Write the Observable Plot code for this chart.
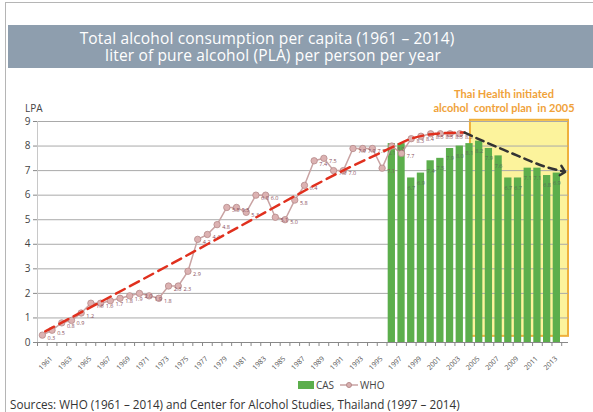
<!DOCTYPE html>
<html>
<head>
<meta charset="utf-8">
<script src="https://cdn.jsdelivr.net/npm/d3@7"></script>
<script src="https://cdn.jsdelivr.net/npm/@observablehq/plot@0.6"></script>
<style>
  html, body { margin: 0; padding: 0; background: #fff; }
  #page { position: relative; width: 593px; height: 412px; overflow: hidden; font-family: "Open Sans", sans-serif; }
  #frame { position: absolute; left: 5px; top: 2px; width: 620px; height: 430px; border: 1px solid #b5b5b5; }
  #banner { position: absolute; left: 8px; top: 25px; width: 600px; height: 43px; background: #8e9eae; }
  .title { position: absolute; color: #fff; font-size: 15.5px; line-height: 14px; letter-spacing: 0.15px; font-family: "Open Sans", sans-serif; font-weight: 400; white-space: nowrap; transform: translateX(-50%); }
  #chart { position: absolute; left: 0; top: 80px; }
  #lpa { position: absolute; left: 25px; top: 101px; font-size: 10px; color: #444; }
  .note { position: absolute; left: 418px; width: 172px; text-align: center; color: #f0a23a; font-weight: bold; font-size: 11px; line-height: 12px; font-family: Lato, sans-serif; white-space: pre; }
  #legend { position: absolute; top: 378px; left: 298px; font-size: 10px; color: #444; display: flex; align-items: center; font-family: "Open Sans", sans-serif; }
  #source { position: absolute; left: 10px; top: 396px; font-size: 11.7px; color: #333; font-family: "Open Sans", sans-serif; }
</style>
</head>
<body>
<div id="page">
  <div id="frame"></div>
  <div id="banner"></div>
  <div class="title" style="top:31px; left:267px">Total alcohol consumption per capita (1961 – 2014)</div>
  <div class="title" style="top:48px; left:273px">liter of pure alcohol (PLA) per person per year</div>
  <div id="chart"></div>
  <div id="lpa">LPA</div>
  <div class="note" style="top:88px">Thai Health initiated</div>
  <div class="note" style="top:102px">alcohol  control plan  in 2005</div>
  <div id="legend">
    <svg width="16" height="8"><rect x="0" y="0" width="16" height="8" fill="#5cae4c"></rect></svg>
    <span style="margin-left:2px">CAS</span>
    <svg width="18" height="8" style="margin-left:6px"><line x1="0" y1="4" x2="18" y2="4" stroke="#c9a3a3" stroke-width="1.5"></line><circle cx="9" cy="4" r="2.5" fill="#d8b0b0" stroke="#b58a8a"></circle></svg>
    <span style="margin-left:2px">WHO</span>
  </div>
  <div id="source">Sources: WHO (1961 – 2014) and Center for Alcohol Studies, Thailand (1997 – 2014)</div>
</div>
<script>
// WHO series (1961–2004)
const whoYears = [1961,1962,1963,1964,1965,1966,1967,1968,1969,1970,1971,1972,1973,1974,1975,1976,1977,1978,1979,1980,1981,1982,1983,1984,1985,1986,1987,1988,1989,1990,1991,1992,1993,1994,1995,1996,1997,1998,1999,2000,2001,2002,2003,2004];
const whoValues = [0.3,0.5,0.8,0.9,1.2,1.6,1.6,1.7,1.8,1.9,2.0,1.9,1.8,2.3,2.3,2.9,4.2,4.4,4.8,5.5,5.5,5.3,6.0,6.0,5.1,5.0,5.8,6.4,7.4,7.5,7.0,7.0,7.9,7.9,7.9,7.1,8.0,7.7,8.3,8.4,8.5,8.5,8.5,8.5];
// CAS series (1997–2014)
const casYears = [1997,1998,1999,2000,2001,2002,2003,2004,2005,2006,2007,2008,2009,2010,2011,2012,2013,2014];
const casValues = [8.1,8.1,6.7,6.9,7.4,7.5,7.9,8.0,8.1,8.2,7.9,7.6,6.7,6.7,7.1,7.1,6.8,6.9];
// x tick labels (every other year)
const tickYears = [1961,1963,1965,1967,1969,1971,1973,1975,1977,1979,1981,1983,1985,1987,1989,1991,1993,1995,1997,1999,2001,2003,2005,2007,2009,2011,2013];
const yTicks = [0,1,2,3,4,5,6,7,8,9];
// hand-drawn trend annotations (year, LPA)
const redTrendX = [1961.3,1978,1990,1996.5,1999,2001.5,2004.5];
const redTrendY = [0.45,4.0,6.6,7.85,8.3,8.5,8.55];
const blackTrendX = [2004.5,2007,2010,2012.5,2014.6];
const blackTrendY = [8.55,8.1,7.6,7.2,6.97];
// highlighted period box (2005 onwards)
const boxX = [2005.1, 2015.2];
const boxY = [0.25, 9.05];

const who = whoYears.map((y, i) => ({year: y, v: whoValues[i]}));
const cas = casYears.map((y, i) => ({year: y, v: casValues[i]}));
const red = redTrendX.map((x, i) => ({x, y: redTrendY[i]}));
const black = blackTrendX.map((x, i) => ({x, y: blackTrendY[i]}));
const boundaries = d3.range(1960.5, 2015, 1);

const chart = Plot.plot({
  width: 593,
  height: 300,
  marginLeft: 37,
  marginRight: 25,
  marginTop: 41,
  marginBottom: 38,
  style: {fontFamily: "Open Sans, sans-serif", background: "transparent"},
  x: {domain: [1960.5, 2015.2], axis: null},
  y: {domain: [0, 9], axis: null},
  marks: [
    Plot.rect([{x1: boxX[0], x2: boxX[1], y1: boxY[0], y2: boxY[1]}], {x1: "x1", x2: "x2", y1: "y1", y2: "y2", fill: "#fcf39c", stroke: "#efb03c", strokeWidth: 2}),
    Plot.ruleY(yTicks.slice(1), {stroke: "#a9a9a9", strokeWidth: 1}),
    Plot.ruleX([1960.5], {y1: 0, y2: 9, stroke: "#c8c8c8"}),
    Plot.axisY({ticks: yTicks, tickSize: 4, tickPadding: 3, fontSize: 10, color: "#444", label: null, stroke: "#888"}),
    Plot.rectY(cas, {x1: d => d.year - 0.375, x2: d => d.year + 0.375, y: "v", fill: "#5cae4c"}),
    Plot.text(cas, {x: "year", y: "v", text: d => d.v.toFixed(1), dy: 10, fontSize: 5.5, fill: "#5b6e55"}),
    Plot.line(who, {x: "year", y: "v", stroke: "#c9a3a3", strokeWidth: 1.5}),
    Plot.dot(who, {x: "year", y: "v", r: 3.2, fill: "#dcb2b2", stroke: "#b58a8a", strokeWidth: 0.8}),
    Plot.text(who, {x: "year", y: "v", text: d => d.v.toFixed(1), dx: 9, dy: 3, fontSize: 5.5, fill: "#8a5060"}),
    Plot.line(red, {x: "x", y: "y", curve: "natural", stroke: "#e0301e", strokeWidth: 2.5, strokeDasharray: "10,6"}),
    Plot.line(black, {x: "x", y: "y", curve: "natural", stroke: "#333", strokeWidth: 2.5, strokeDasharray: "8,5", markerEnd: "arrow"}),
    Plot.ruleY([0], {stroke: "#888", strokeWidth: 1.2}),
    Plot.axisX({ticks: boundaries, tickFormat: () => "", tickSize: 4, stroke: "#888"}),
    Plot.axisX({ticks: tickYears, tickFormat: d => String(d), tickSize: 0, tickRotate: -45, tickPadding: 15, dx: 9, fontSize: 7, color: "#555", label: null})
  ]
});
document.getElementById("chart").appendChild(chart);
</script>
</body>
</html>
